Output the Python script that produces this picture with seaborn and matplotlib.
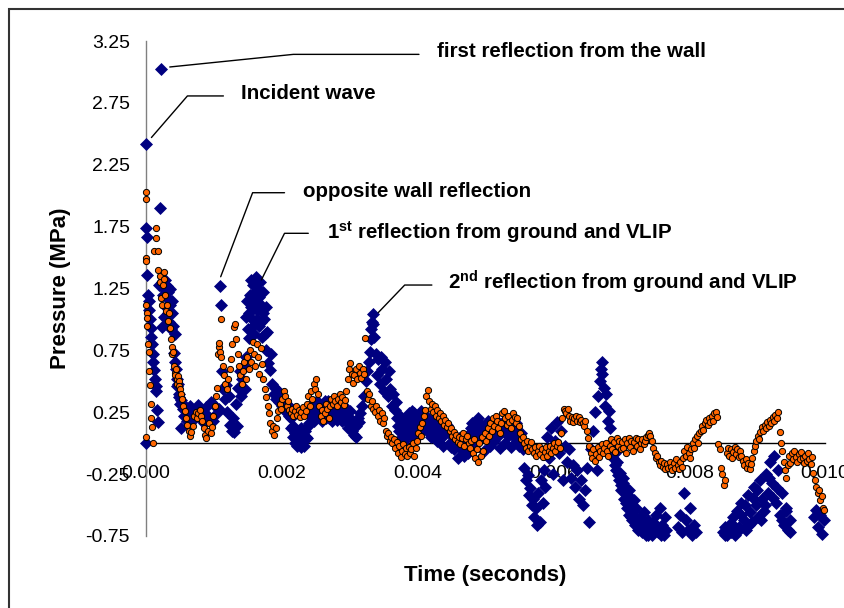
import numpy as np
import pandas as pd
import matplotlib
matplotlib.use("Agg")
import matplotlib.pyplot as plt
from matplotlib.ticker import FixedLocator, FormatStrFormatter
from matplotlib.patches import Rectangle
import seaborn as sns

# Gauge 1 (blue diamonds): time in milliseconds and pressure in MPa
blue_time_ms = [
    0.00, 0.00, 0.00, 0.01, 0.02, 0.03, 0.04, 0.05, 0.06, 0.07, 0.08, 0.09, 0.10, 0.11, 0.12, 0.13, 0.14, 0.15, 0.16, 0.17,
    0.19, 0.20, 0.22, 0.23, 0.24, 0.25, 0.26, 0.27, 0.28, 0.29, 0.30, 0.31, 0.32, 0.33, 0.34, 0.35, 0.36, 0.37, 0.38, 0.39,
    0.40, 0.41, 0.42, 0.43, 0.44, 0.45, 0.46, 0.47, 0.48, 0.49, 0.50, 0.51, 0.52, 0.54, 0.56, 0.58, 0.60,
    0.62, 0.65, 0.68, 0.71, 0.74, 0.77, 0.80, 0.83, 0.86, 0.89, 0.92, 0.95, 0.98, 1.01, 1.04,
    1.08, 1.09, 1.10, 1.12, 1.14, 1.16, 1.18, 1.20, 1.22, 1.24, 1.26, 1.28, 1.30, 1.32, 1.34,
    1.36, 1.38, 1.40, 1.42, 1.44, 1.46, 1.48,
    1.50, 1.52, 1.53, 1.55, 1.56, 1.58, 1.59, 1.61, 1.62, 1.64, 1.65, 1.67, 1.68, 1.70, 1.71, 1.73, 1.74, 1.76, 1.78,
    1.47, 1.49, 1.51, 1.54, 1.57, 1.60, 1.63, 1.66, 1.69, 1.72, 1.75, 1.77,
    1.80, 1.82, 1.84, 1.86, 1.88, 1.90, 1.92, 1.94, 1.96, 1.98, 2.00, 2.02, 2.04, 2.06, 2.08,
    2.10, 2.13, 2.16, 2.19, 2.22, 2.25, 2.28, 2.31, 2.34, 2.37, 2.40, 2.43, 2.46, 2.49, 2.52, 2.55,
    2.11, 2.14, 2.17, 2.20, 2.23, 2.26, 2.29, 2.32, 2.35, 2.38, 2.41, 2.44, 2.47, 2.50, 2.53,
    2.58, 2.61, 2.64, 2.67, 2.70, 2.73, 2.76, 2.79, 2.82, 2.85, 2.88, 2.91, 2.94, 2.97, 3.00, 3.03, 3.06, 3.09, 3.12, 3.15,
    2.59, 2.62, 2.65, 2.68, 2.71, 2.74, 2.77, 2.80, 2.83, 2.86, 2.89, 2.92, 2.95, 2.98, 3.01, 3.04, 3.07, 3.10, 3.13,
    3.18, 3.21, 3.24, 3.26, 3.28, 3.30, 3.31, 3.32, 3.33, 3.34, 3.35, 3.36,
    3.38, 3.40, 3.42, 3.44, 3.46, 3.48, 3.50, 3.52, 3.54, 3.56, 3.58, 3.60, 3.62, 3.64, 3.66, 3.68,
    3.70, 3.72, 3.74, 3.76, 3.78, 3.80, 3.82, 3.84, 3.86, 3.88, 3.90, 3.92, 3.94, 3.96, 3.98, 4.00, 4.02,
    3.71, 3.75, 3.79, 3.83, 3.87, 3.91, 3.95, 3.99, 4.03, 4.07,
    4.05, 4.08, 4.11, 4.14, 4.17, 4.20, 4.23, 4.26, 4.29, 4.32, 4.35, 4.38, 4.41, 4.44, 4.47, 4.50,
    4.13, 4.19, 4.25, 4.31, 4.37, 4.43, 4.49,
    4.53, 4.56, 4.59, 4.62, 4.65, 4.68, 4.71, 4.74, 4.77, 4.80, 4.83, 4.86, 4.89, 4.92, 4.95, 4.98,
    4.55, 4.61, 4.67, 4.73, 4.79, 4.85, 4.91, 4.97,
    5.01, 5.04, 5.07, 5.10, 5.13, 5.16, 5.19, 5.22, 5.25, 5.28, 5.31, 5.34, 5.37, 5.40, 5.43, 5.46, 5.49, 5.52, 5.55,
    5.03, 5.09, 5.15, 5.21, 5.27, 5.33, 5.39, 5.45, 5.51,
    5.57, 5.60, 5.62, 5.64, 5.66, 5.68, 5.70, 5.72, 5.74, 5.76, 5.78, 5.80, 5.82, 5.84, 5.86, 5.88,
    5.90, 5.93, 5.96, 5.99, 6.02, 6.05, 6.08, 6.11, 6.14, 6.17, 6.20, 6.23, 6.26, 6.29, 6.32, 6.35, 6.38, 6.41, 6.44, 6.47, 6.50, 6.53,
    6.56, 6.59, 6.62, 6.64, 6.66, 6.68, 6.70, 6.71, 6.72, 6.74, 6.76, 6.78, 6.80, 6.82, 6.84,
    6.86, 6.88, 6.90, 6.92, 6.94, 6.96, 6.98, 7.00, 7.02, 7.04, 7.06, 7.08, 7.10, 7.12, 7.14, 7.16, 7.18, 7.20, 7.22, 7.24,
    6.91, 6.95, 6.99, 7.03, 7.07, 7.11, 7.15, 7.19, 7.23, 7.28, 7.34, 7.40, 7.46, 7.52, 7.58, 7.64,
    7.27, 7.30, 7.33, 7.36, 7.39, 7.42, 7.45, 7.48, 7.51, 7.54, 7.57, 7.60, 7.63, 7.66,
    7.84, 7.87, 7.90, 7.92, 7.95, 7.98, 8.01, 8.04, 8.07, 8.10,
    8.50, 8.53, 8.56, 8.59, 8.62, 8.65, 8.68, 8.71, 8.74, 8.77, 8.80, 8.83, 8.86, 8.89, 8.92, 8.95, 8.98,
    8.52, 8.58, 8.64, 8.70, 8.76, 8.82, 8.88, 8.94, 9.00, 9.06, 9.12, 9.18, 9.24, 9.30, 9.36, 9.42, 9.48,
    9.01, 9.04, 9.07, 9.10, 9.13, 9.16, 9.19, 9.22, 9.25, 9.28, 9.31, 9.34, 9.37, 9.40, 9.43, 9.46, 9.49,
    9.84, 9.87, 9.90, 9.93, 9.96, 9.99,
]
blue_mpa = [
    0.00, 2.42, 1.74, 1.67, 1.36, 1.20, 1.15, 1.08, 1.00, 0.93, 0.86, 0.80, 0.72, 0.66, 0.59, 0.52, 0.46, 0.42, 0.27, 0.17,
    1.28, 1.90, 3.02, 0.94, 1.30, 1.20, 1.02, 1.25, 1.32, 1.10, 1.18, 1.27, 1.05, 1.22, 0.98, 1.12, 1.25, 0.92, 1.15, 1.05,
    0.95, 0.73, 0.88, 0.66, 0.60, 0.52, 0.46, 0.48, 0.40, 0.37, 0.32, 0.12, 0.35, 0.28, 0.22, 0.30, 0.18,
    0.25, 0.30, 0.18, 0.27, 0.22, 0.31, 0.20, 0.26, 0.16, 0.29, 0.22, 0.33, 0.18, 0.30, 0.24,
    0.28, 1.27, 1.12, 0.58, 0.44, 0.36, 0.47, 0.25, 0.38, 0.15, 0.10, 0.20, 0.09, 0.32, 0.14,
    0.45, 0.58, 0.38, 0.52, 0.62, 0.44, 0.70,
    0.92, 1.05, 1.20, 1.32, 1.00, 1.28, 0.88, 1.15, 1.34, 1.08, 1.25, 0.95, 1.30, 1.12, 0.86, 1.22, 1.00, 0.75, 0.90,
    1.02, 1.15, 0.85, 1.10, 0.95, 1.22, 1.00, 1.18, 0.98, 1.05, 0.88, 1.10,
    0.65, 0.59, 0.72, 0.48, 0.40, 0.45, 0.36, 0.42, 0.33, 0.38, 0.30, 0.35, 0.28, 0.32, 0.24,
    0.22, 0.12, 0.05, 0.00, -0.02, 0.06, -0.03, 0.02, 0.10, 0.04, 0.16, 0.25, 0.30, 0.20, 0.34, 0.28,
    0.30, 0.20, 0.14, 0.08, 0.10, 0.01, 0.12, -0.02, 0.05, 0.14, 0.22, 0.32, 0.18, 0.26, 0.22,
    0.30, 0.22, 0.34, 0.26, 0.20, 0.32, 0.24, 0.29, 0.19, 0.31, 0.25, 0.22, 0.27, 0.16, 0.20, 0.10, 0.07, 0.14, 0.20, 0.24,
    0.18, 0.30, 0.20, 0.34, 0.26, 0.18, 0.33, 0.25, 0.22, 0.28, 0.18, 0.30, 0.24, 0.12, 0.26, 0.16, 0.13, 0.05, 0.17,
    0.30, 0.38, 0.50, 0.58, 0.66, 0.74, 0.84, 0.92, 0.98, 1.04, 0.96, 0.86,
    0.72, 0.55, 0.68, 0.48, 0.70, 0.60, 0.42, 0.66, 0.52, 0.38, 0.58, 0.44, 0.30, 0.40, 0.27, 0.33,
    0.20, 0.10, 0.22, 0.04, 0.15, 0.02, 0.12, 0.20, 0.08, 0.24, 0.14, 0.26, 0.18, 0.10, 0.22, 0.13, 0.08,
    0.14, 0.02, 0.08, 0.18, 0.16, 0.06, 0.24, 0.05, 0.20, 0.16,
    0.26, 0.15, 0.22, 0.10, 0.18, 0.05, 0.14, 0.20, 0.02, 0.12, 0.17, -0.02, 0.08, 0.15, 0.00, 0.06,
    0.22, 0.12, 0.08, 0.18, 0.06, 0.10, -0.03,
    -0.05, 0.04, -0.12, -0.02, 0.06, -0.10, 0.02, -0.08, 0.08, 0.16, -0.04, 0.10, 0.20, 0.04, 0.14, -0.06,
    0.00, 0.04, -0.06, -0.02, 0.12, 0.02, 0.16, 0.10,
    0.08, 0.18, -0.02, 0.12, 0.02, 0.19, 0.06, -0.04, 0.14, 0.00, 0.10, 0.17, -0.03, 0.06, 0.12, 0.02, -0.02, 0.08, -0.05,
    0.12, 0.04, 0.08, 0.14, 0.18, 0.06, 0.10, 0.16, 0.04,
    -0.20, -0.30, -0.26, -0.42, -0.36, -0.50, -0.45, -0.60, -0.52, -0.66, -0.40, -0.64, -0.30, -0.48, -0.22, -0.35,
    0.05, -0.12, 0.12, -0.25, 0.02, 0.17, -0.08, 0.10, -0.30, -0.02, -0.15, -0.05, -0.28, -0.18, -0.35, -0.22, -0.45, -0.30, -0.50, -0.38, -0.20, -0.64,
    -0.05, 0.10, 0.25, -0.22, 0.38, 0.50, 0.60, 0.66, 0.56, 0.45, 0.30, 0.40, 0.18, 0.26, 0.12,
    -0.02, -0.12, -0.08, -0.22, -0.15, -0.30, -0.24, -0.38, -0.28, -0.45, -0.35, -0.52, -0.42, -0.58, -0.48, -0.62, -0.55, -0.66, -0.52, -0.70,
    -0.18, -0.26, -0.34, -0.32, -0.48, -0.38, -0.60, -0.46, -0.62, -0.68, -0.56, -0.74, -0.64, -0.70, -0.74, -0.60,
    -0.60, -0.72, -0.66, -0.74, -0.62, -0.70, -0.74, -0.68, -0.58, -0.72, -0.52, -0.66, -0.74, -0.70,
    -0.68, -0.58, -0.72, -0.40, -0.62, -0.70, -0.52, -0.74, -0.66, -0.72,
    -0.72, -0.68, -0.74, -0.66, -0.72, -0.60, -0.74, -0.55, -0.68, -0.48, -0.62, -0.70, -0.42, -0.56, -0.64, -0.35, -0.50,
    -0.74, -0.70, -0.66, -0.72, -0.58, -0.50, -0.66, -0.44, -0.38, -0.62, -0.50, -0.28, -0.44, -0.36, -0.62, -0.55, -0.72,
    -0.60, -0.30, -0.45, -0.55, -0.25, -0.40, -0.15, -0.32, -0.10, -0.48, -0.22, -0.58, -0.40, -0.66, -0.52, -0.70, -0.62,
    -0.60, -0.54, -0.68, -0.58, -0.73, -0.62,
]

# Gauge 2 (orange circles): time in milliseconds and pressure in MPa
orange_time_ms = [
    0.00, 0.00, 0.00, 0.00, 0.00, 0.00, 0.01, 0.01, 0.02, 0.03, 0.04, 0.05, 0.06, 0.07, 0.08, 0.09, 0.10,
    0.12, 0.14, 0.15, 0.17, 0.18, 0.20, 0.21, 0.22, 0.24, 0.25, 0.26, 0.27, 0.28, 0.30, 0.31, 0.32, 0.34, 0.35,
    0.37, 0.38, 0.39, 0.40, 0.41, 0.42, 0.43, 0.44, 0.45, 0.46, 0.47, 0.48, 0.49, 0.50, 0.52, 0.53,
    0.55, 0.57, 0.59, 0.61, 0.63, 0.65, 0.67, 0.69, 0.71, 0.73, 0.75, 0.77, 0.79, 0.81, 0.83, 0.85, 0.87, 0.89, 0.91, 0.93, 0.95, 0.97, 0.99,
    1.01, 1.03, 1.05, 1.06, 1.07, 1.08, 1.09, 1.10, 1.11, 1.13, 1.15, 1.17, 1.19, 1.21, 1.23, 1.25, 1.27, 1.29, 1.31, 1.33, 1.35, 1.37, 1.39,
    1.41, 1.43, 1.45, 1.47, 1.49, 1.51, 1.53, 1.55, 1.57, 1.59, 1.61, 1.63, 1.65, 1.67, 1.69, 1.71, 1.73, 1.75, 1.77,
    1.79, 1.81, 1.83, 1.85, 1.87, 1.89, 1.91, 1.93, 1.95, 1.97, 1.99, 2.01, 2.03, 2.05, 2.07, 2.09, 2.11, 2.13,
    2.15, 2.17, 2.19, 2.21, 2.23, 2.25, 2.27, 2.29, 2.31, 2.33, 2.35, 2.37, 2.39, 2.41, 2.43, 2.45, 2.47, 2.49,
    2.51, 2.53, 2.55, 2.57, 2.59, 2.61, 2.63, 2.65, 2.67, 2.69, 2.71, 2.73, 2.75, 2.77, 2.79, 2.81, 2.83, 2.85, 2.87, 2.89, 2.91, 2.93, 2.95,
    2.97, 2.99, 3.01, 3.03, 3.05, 3.07, 3.09, 3.11, 3.13, 3.15, 3.17, 3.19, 3.21, 3.23, 3.25, 3.27, 3.29, 3.31, 3.33, 3.35, 3.37, 3.39,
    3.41, 3.43, 3.45, 3.47, 3.49, 3.51, 3.53, 3.55, 3.57, 3.59, 3.61, 3.63, 3.65, 3.67, 3.69,
    3.71, 3.73, 3.75, 3.77, 3.79, 3.81, 3.83, 3.85, 3.87, 3.89, 3.91, 3.93, 3.95, 3.97, 3.99, 4.01, 4.03, 4.05, 4.07, 4.09, 4.11, 4.13, 4.15,
    4.17, 4.19, 4.21, 4.23, 4.25, 4.27, 4.29, 4.31, 4.33, 4.35, 4.37, 4.39, 4.41, 4.43, 4.45, 4.47, 4.49, 4.51, 4.53, 4.55, 4.57, 4.59, 4.61,
    4.63, 4.65, 4.67, 4.69, 4.71, 4.73, 4.75, 4.77, 4.79, 4.81, 4.83, 4.85, 4.87, 4.89, 4.91, 4.93, 4.95, 4.97, 4.99, 5.01, 5.03, 5.05, 5.07,
    5.09, 5.11, 5.13, 5.15, 5.17, 5.19, 5.21, 5.23, 5.25, 5.27, 5.29, 5.31, 5.33, 5.35, 5.37, 5.39, 5.41, 5.43, 5.45, 5.47, 5.49, 5.51, 5.53,
    5.55, 5.57, 5.59, 5.61, 5.63, 5.65, 5.67, 5.69, 5.71, 5.73, 5.75, 5.77, 5.79, 5.81, 5.83, 5.85, 5.87, 5.89, 5.91, 5.93, 5.95, 5.97, 5.99, 6.01, 6.03, 6.05, 6.07, 6.09,
    6.11, 6.13, 6.15, 6.17, 6.19, 6.21, 6.23, 6.25, 6.27, 6.29, 6.31, 6.33, 6.35, 6.37, 6.39, 6.41, 6.43, 6.45, 6.47, 6.49, 6.51, 6.53,
    6.55, 6.57, 6.59, 6.61, 6.63, 6.65, 6.67, 6.69, 6.71, 6.73, 6.75, 6.77, 6.79, 6.81, 6.83, 6.85, 6.87, 6.89, 6.91, 6.93, 6.95, 6.97, 6.99,
    7.01, 7.03, 7.05, 7.07, 7.09, 7.11, 7.13, 7.15, 7.17, 7.19, 7.21, 7.23, 7.25, 7.27, 7.29, 7.31, 7.33, 7.35, 7.37, 7.39, 7.41, 7.43,
    7.45, 7.47, 7.49, 7.51, 7.53, 7.55, 7.57, 7.59, 7.61, 7.63, 7.65, 7.67, 7.69, 7.71, 7.73, 7.75, 7.77, 7.79, 7.81, 7.83, 7.85, 7.87, 7.89,
    7.91, 7.93, 7.95, 7.97, 7.99, 8.01, 8.03, 8.05, 8.07, 8.09, 8.11, 8.13, 8.15,
    8.17, 8.19, 8.21, 8.23, 8.25, 8.27, 8.29, 8.31, 8.33, 8.35, 8.37, 8.39, 8.41, 8.43, 8.45, 8.47, 8.49, 8.51, 8.53,
    8.55, 8.57, 8.59, 8.61, 8.63, 8.65, 8.67, 8.69, 8.71, 8.73, 8.75, 8.77, 8.79, 8.81, 8.83, 8.85, 8.87, 8.89, 8.91, 8.93,
    8.95, 8.97, 8.99, 9.01, 9.03, 9.05, 9.07, 9.09, 9.11, 9.13, 9.15, 9.17, 9.19, 9.21, 9.23, 9.25, 9.27, 9.29, 9.31, 9.33, 9.35,
    9.37, 9.39, 9.41, 9.43, 9.45, 9.47, 9.49, 9.51, 9.53, 9.55, 9.57, 9.59, 9.61, 9.63, 9.65, 9.67, 9.69, 9.71, 9.73, 9.75, 9.77, 9.79, 9.81,
    9.83, 9.85, 9.87, 9.89, 9.91, 9.93, 9.95, 9.97, 9.99,
]
orange_mpa = [
    0.05, 2.03, 1.97, 1.50, 1.47, 1.12, 1.05, 1.01, 0.95, 0.80, 0.74, 0.58, 0.47, 0.32, 0.20, 0.13, 0.00,
    1.55, 1.74, 1.66, 1.55, 1.40, 1.30, 1.35, 1.17, 1.12, 1.28, 1.33, 1.38, 1.20, 1.07, 1.12, 0.99, 1.05, 0.93,
    0.84, 0.78, 0.72, 0.74, 0.62, 0.57, 0.55, 0.60, 0.52, 0.48, 0.54, 0.50, 0.46, 0.44, 0.40, 0.36,
    0.30, 0.26, 0.20, 0.15, 0.10, 0.06, 0.09, 0.14, 0.22, 0.25, 0.20, 0.24, 0.27, 0.22, 0.18, 0.12, 0.07, 0.04, 0.10, 0.16, 0.08, 0.13, 0.22,
    0.30, 0.38, 0.45, 0.72, 0.78, 0.81, 0.74, 1.00, 0.70, 0.62, 0.55, 0.48, 0.44, 0.52, 0.60, 0.68, 0.80, 0.94, 0.96, 0.84, 0.72, 0.62, 0.55,
    0.48, 0.58, 0.66, 0.52, 0.70, 0.60, 0.75, 0.66, 0.82, 0.72, 0.62, 0.80, 0.70, 0.56, 0.77, 0.64, 0.52, 0.44, 0.37,
    0.30, 0.24, 0.16, 0.10, 0.14, 0.07, 0.12, 0.20, 0.26, 0.32, 0.28, 0.36, 0.42, 0.38, 0.30, 0.34, 0.27, 0.24,
    0.28, 0.22, 0.26, 0.30, 0.23, 0.27, 0.21, 0.25, 0.29, 0.22, 0.26, 0.32, 0.38, 0.30, 0.42, 0.36, 0.48, 0.44,
    0.52, 0.40, 0.30, 0.22, 0.27, 0.18, 0.24, 0.32, 0.28, 0.20, 0.30, 0.36, 0.32, 0.38, 0.34, 0.30, 0.36, 0.40, 0.33, 0.37, 0.31, 0.35, 0.42,
    0.52, 0.60, 0.65, 0.56, 0.49, 0.55, 0.60, 0.52, 0.62, 0.57, 0.53, 0.60, 0.56, 0.85, 0.42, 0.36, 0.40, 0.30, 0.34, 0.28, 0.25, 0.30,
    0.22, 0.27, 0.18, 0.24, 0.16, 0.20, 0.10, 0.06, 0.08, 0.02, 0.05, 0.00, 0.03, -0.04, 0.01,
    -0.08, -0.02, -0.11, -0.06, -0.01, -0.09, -0.04, -0.10, -0.03, -0.08, -0.05, 0.00, -0.10, -0.04, 0.02, 0.08, 0.13, 0.06, 0.16, 0.22, 0.27, 0.38, 0.43,
    0.34, 0.28, 0.32, 0.25, 0.30, 0.22, 0.27, 0.20, 0.24, 0.18, 0.22, 0.15, 0.19, 0.13, 0.16, 0.10, 0.12, 0.06, 0.09, 0.03, 0.07, 0.01, 0.05,
    -0.01, 0.04, 0.08, -0.02, 0.03, 0.06, 0.00, -0.04, 0.02, -0.08, 0.03, -0.12, -0.05, -0.15, 0.00, -0.10, 0.05, -0.06, 0.08, 0.02, 0.12, 0.06, 0.16,
    0.10, 0.20, 0.14, 0.22, 0.18, 0.12, 0.08, 0.16, 0.24, 0.26, 0.20, 0.15, 0.22, 0.17, 0.12, 0.19, 0.24, 0.21, 0.16, 0.20, 0.14, 0.08, 0.03,
    0.05, 0.00, -0.04, 0.02, -0.06, -0.02, 0.01, -0.05, -0.08, -0.03, -0.10, -0.06, -0.02, -0.09, -0.05, -0.11, -0.07, -0.03, -0.10, -0.06, -0.02, -0.08, -0.04, 0.00, -0.06, -0.02, 0.01, -0.04,
    0.08, 0.20, 0.28, 0.26, 0.24, 0.28, 0.22, 0.18, 0.21, 0.17, 0.20, 0.22, 0.18, 0.21, 0.17, 0.19, 0.16, 0.14, 0.18, 0.10, 0.04, -0.02,
    -0.08, -0.12, -0.05, -0.14, -0.09, -0.03, -0.11, -0.06, -0.01, -0.08, -0.04, 0.00, -0.06, -0.10, -0.02, 0.03, -0.05, 0.01, -0.07, 0.04, -0.02, 0.02, -0.05,
    0.01, -0.04, 0.03, -0.08, 0.00, 0.04, -0.03, 0.02, -0.06, 0.01, 0.04, -0.02, 0.03, -0.05, 0.00, 0.03, -0.01, 0.02, 0.05, 0.07, 0.08, 0.06,
    0.02, -0.04, -0.08, -0.12, -0.10, -0.15, -0.18, -0.14, -0.19, -0.16, -0.21, -0.17, -0.20, -0.15, -0.19, -0.22, -0.16, -0.20, -0.13, -0.18, -0.21, -0.15, -0.19,
    -0.12, -0.06, -0.10, -0.03, -0.08, -0.12, -0.05, 0.00, -0.04, 0.03, 0.06, 0.00, 0.08,
    0.10, 0.14, 0.11, 0.16, 0.19, 0.15, 0.20, 0.17, 0.22, 0.18, 0.24, 0.25, 0.21, -0.01, -0.05, -0.20, -0.25, -0.34, -0.30,
    -0.08, -0.04, -0.10, -0.05, -0.12, -0.07, -0.03, -0.09, -0.05, -0.11, -0.06, -0.10, -0.14, -0.18, -0.13, -0.20, -0.16, -0.21, -0.17, -0.12,
    -0.06, -0.02, 0.02, 0.06, 0.03, 0.09, 0.13, 0.10, 0.15, 0.12, 0.17, 0.14, 0.19, 0.16, 0.21, 0.18, 0.23, 0.20, 0.25, 0.09, 0.00,
    -0.06, -0.15, -0.22, -0.28, -0.18, -0.10, -0.16, -0.08, -0.13, -0.06, -0.11, -0.15, -0.09, -0.13, -0.07, -0.12, -0.16, -0.10, -0.14, -0.08, -0.13, -0.17, -0.11,
    -0.24, -0.30, -0.35, -0.40, -0.38, -0.46, -0.43, -0.52, -0.54,
]

x_ticks = [0.000, 0.002, 0.004, 0.006, 0.008, 0.010]
y_ticks = [-0.75, -0.25, 0.25, 0.75, 1.25, 1.75, 2.25, 2.75, 3.25]

# Callouts: label, leader polyline (ms, MPa), text anchor (ms, MPa at baseline)
callouts = [
    ("first reflection from the wall", [(0.35, 3.04), (2.17, 3.142), (4.02, 3.142)], (4.29, 3.118)),
    ("Incident wave", [(0.08, 2.47), (0.61, 2.806), (1.14, 2.806)], (1.40, 2.779)),
    ("opposite wall reflection", [(1.10, 1.345), (1.57, 2.024), (2.04, 2.024)], (2.31, 1.992)),
    (r"$\mathbf{1^{st}}$ reflection from ground and VLIP", [(1.70, 1.32), (2.04, 1.696), (2.39, 1.696)], (2.66, 1.650)),
    (r"$\mathbf{2^{nd}}$ reflection from ground and VLIP", [(3.42, 1.055), (3.81, 1.278), (4.21, 1.278)], (4.45, 1.238)),
]

assert len(blue_time_ms) == len(blue_mpa)
assert len(orange_time_ms) == len(orange_mpa)

sns.set_theme(style="white")
plt.rcParams["font.family"] = ["Liberation Sans", "DejaVu Sans"]
plt.rcParams["axes.unicode_minus"] = False
plt.rcParams["mathtext.fontset"] = "custom"
plt.rcParams["mathtext.rm"] = "Liberation Sans"
plt.rcParams["mathtext.bf"] = "Liberation Sans:bold"

fig = plt.figure(figsize=(8.45, 6.08), dpi=100)
ax = fig.add_axes([146 / 845, 1 - 536 / 608, 679 / 845, 495 / 608])

blue = pd.DataFrame({"time": np.array(blue_time_ms) / 1000.0, "pressure": blue_mpa})
orange = pd.DataFrame({"time": np.array(orange_time_ms) / 1000.0, "pressure": orange_mpa})

sns.scatterplot(data=blue, x="time", y="pressure", marker="D", s=44,
                color="#000080", linewidth=0, ax=ax, clip_on=False, zorder=3)
sns.scatterplot(data=orange, x="time", y="pressure", marker="o", s=20,
                color="#FF6600", edgecolor="black", linewidth=0.7, ax=ax,
                clip_on=False, zorder=4)

ax.set_xlim(0, 0.010)
ax.set_ylim(-0.75, 3.25)
ax.spines["top"].set_visible(False)
ax.spines["right"].set_visible(False)
ax.spines["bottom"].set_position(("data", 0))
ax.spines["bottom"].set_color("black")
ax.spines["bottom"].set_linewidth(1.0)
ax.spines["left"].set_color("#808080")
ax.spines["left"].set_linewidth(1.0)

ax.xaxis.set_major_locator(FixedLocator(x_ticks))
ax.yaxis.set_major_locator(FixedLocator(y_ticks))
ax.xaxis.set_major_formatter(FormatStrFormatter("%.3f"))
ax.yaxis.set_major_formatter(FormatStrFormatter("%.2f"))
ax.tick_params(axis="x", direction="in", length=5, width=1, color="black",
               pad=16, labelsize=14, labelcolor="black")
ax.tick_params(axis="y", direction="in", length=5, width=1, color="#808080",
               pad=11.5, labelsize=14, labelcolor="black")

ax.set_xlabel("Time (seconds)", fontsize=16, fontweight="bold", color="black")
ax.xaxis.set_label_coords(0.5, (536 - 576) / 495)
ax.xaxis.label.set_va("center")
ax.set_ylabel("Pressure (MPa)", fontsize=16, fontweight="bold", color="black")
ax.yaxis.set_label_coords((61 - 146) / 679, 0.5)
ax.yaxis.label.set_va("center")

for label, path, (tx, ty) in callouts:
    xs = [p[0] / 1000.0 for p in path]
    ys = [p[1] for p in path]
    ax.plot(xs, ys, color="black", linewidth=1.0, clip_on=False, zorder=5)
    ax.text(tx / 1000.0, ty, label, fontsize=14.8, fontweight="bold",
            ha="left", va="baseline", color="black", zorder=5)

fig.patches.append(Rectangle((9 / 845, -0.1), 1.2, 1 - 9 / 608 + 0.1,
                             transform=fig.transFigure, fill=False,
                             edgecolor="#333333", linewidth=1.5, figure=fig))

fig.savefig("out.png", dpi=100)
